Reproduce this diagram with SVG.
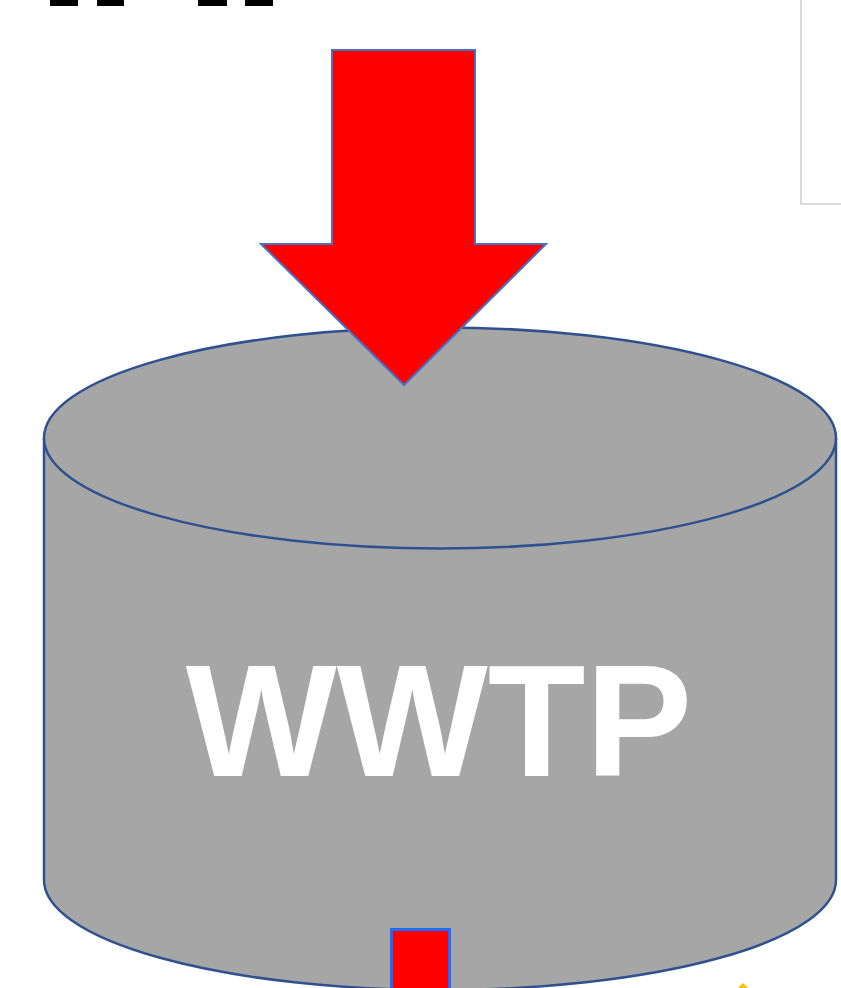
<svg xmlns="http://www.w3.org/2000/svg" width="841" height="988" viewBox="0 0 841 988">
<style>
.blk{fill:#000}
.cyl{fill:#a6a6a6;stroke:#2f528f;stroke-width:2.5}
.arrow{fill:#ff0000;stroke:#4472c4;stroke-width:2}
.lbl{font-family:"Liberation Sans",Arial,sans-serif;font-weight:bold;fill:#fff}
</style>
<rect width="841" height="988" fill="#fff"/>
<g id="topmarks">
<rect class="blk" x="50" y="-2" width="28" height="8"/>
<rect class="blk" x="97" y="-2" width="27" height="8"/>
<rect class="blk" x="198" y="-2" width="29" height="8"/>
<rect class="blk" x="245" y="-2" width="28" height="8"/>
</g>
<g id="panel">
<rect x="801" y="-5" width="60" height="209" fill="#fff" stroke="#d0d0d0" stroke-width="1.5"/>
</g>
<g id="wwtp">
<path class="cyl" d="M44,438 L44,880 A396,110 0 0 0 836,880 L836,438"/>
<ellipse class="cyl" cx="440" cy="438" rx="396" ry="110.5"/>
<text class="lbl" x="439" y="776" font-size="160" text-anchor="middle">WWTP</text>
</g>
<g id="connectors">
<polygon class="arrow" points="332,50 475,50 475,244 546,244 404,385 261,244 332,244"/>
<rect x="391.5" y="929.5" width="58" height="70" fill="#ff0000" stroke="#1a6bff" stroke-width="3"/>
<polygon points="743,983 752,992 734,992" fill="#ffc000"/>
</g>
</svg>
